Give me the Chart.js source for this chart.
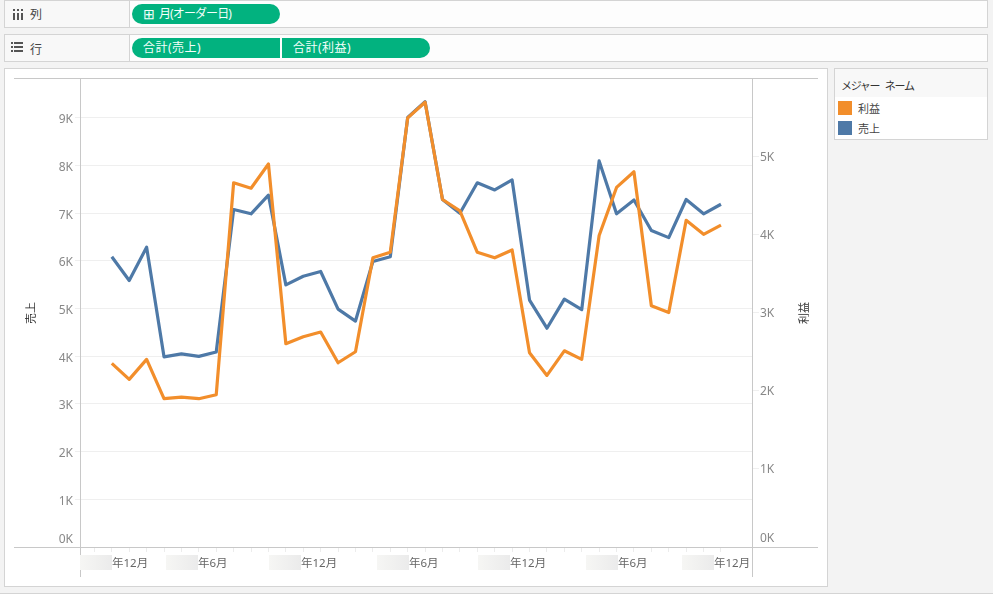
<!DOCTYPE html>
<html>
<head>
<meta charset="utf-8">
<script src="https://cdn.jsdelivr.net/npm/chart.js@4/dist/chart.umd.min.js"></script>
<style>
html, body { margin: 0; padding: 0; width: 993px; height: 594px; overflow: hidden; background: #f3f3f3; }
body, div { font-family: "Noto Sans", "Noto Sans CJK JP", sans-serif; }
.box { position: absolute; box-sizing: border-box; border: 1px solid #d4d4d4; }
.shelf { left: 4px; width: 984px; height: 28px; background: #fdfdfd; }
.shelfhead { position: absolute; left: 0; top: 0; bottom: 0; width: 124px; background: #f8f8f8; border-right: 1px solid #d4d4d4; }
.abs { position: absolute; white-space: nowrap; }
.pill { position: absolute; height: 20px; background: #02b27f; color: #f4fffb; font-size: 12px; line-height: 20px; white-space: nowrap; }
.bar { position: absolute; background: #555; }
.axistitle { position: absolute; font-size: 11px; color: #333; white-space: nowrap; transform: translate(-50%, -50%) rotate(-90deg); }
#plot { position: absolute; left: 4px; top: 68px; width: 824px; height: 519px; background: #fff; }
canvas { position: absolute; left: 0; top: 0; }
</style>
</head>
<body>
<div class="box shelf" style="top:0">
  <div class="shelfhead"></div>
  <div class="bar" style="left:8px;top:8px;width:2px;height:2px"></div>
  <div class="bar" style="left:8px;top:12px;width:2px;height:7px"></div>
  <div class="bar" style="left:12px;top:8px;width:2px;height:2px"></div>
  <div class="bar" style="left:12px;top:12px;width:2px;height:7px"></div>
  <div class="bar" style="left:16px;top:8px;width:2px;height:2px"></div>
  <div class="bar" style="left:16px;top:12px;width:2px;height:7px"></div>
  <div class="abs" style="left:25px;top:4px;font-size:12px;color:#444">列</div>
</div>
<div class="box shelf" style="top:34px">
  <div class="shelfhead"></div>
  <div class="bar" style="left:6px;top:7px;width:2px;height:2px"></div>
  <div class="bar" style="left:9px;top:7px;width:9px;height:2px"></div>
  <div class="bar" style="left:6px;top:11px;width:2px;height:2px"></div>
  <div class="bar" style="left:9px;top:11px;width:9px;height:2px"></div>
  <div class="bar" style="left:6px;top:15px;width:2px;height:2px"></div>
  <div class="bar" style="left:9px;top:15px;width:9px;height:2px"></div>
  <div class="abs" style="left:25px;top:5px;font-size:12px;color:#444">行</div>
</div>
<div class="pill" style="left:132px;top:4px;width:148px;border-radius:10px;">
  <span class="abs" style="left:11px;top:0;font-size:14px">⊞</span>
  <span class="abs" style="left:27px;top:0;letter-spacing:-0.9px">月(オーダー日)</span>
</div>
<div class="pill" style="left:132px;top:38px;width:148px;border-radius:10px 0 0 10px;">
  <span class="abs" style="left:11px;top:0;letter-spacing:0.5px">合計(売上)</span>
</div>
<div class="pill" style="left:282px;top:38px;width:148px;border-radius:0 10px 10px 0;">
  <span class="abs" style="left:11px;top:0;letter-spacing:0.5px">合計(利益)</span>
</div>

<div id="plot" class="box"></div>

<div class="box" style="left:834px;top:68px;width:154px;height:72px;background:#fff">
  <div class="abs" style="left:0;top:0;width:152px;height:28px;background:#f8f8f8"></div>
  <div class="abs" style="left:6px;top:8px;font-size:11px;color:#333;letter-spacing:-1.3px;word-spacing:4px">メジャー ネーム</div>
  <div class="abs" style="left:3px;top:32px;width:14px;height:14px;background:#f28e2b"></div>
  <div class="abs" style="left:23px;top:31px;font-size:11px;color:#444">利益</div>
  <div class="abs" style="left:3px;top:52px;width:14px;height:14px;background:#4e79a7"></div>
  <div class="abs" style="left:23px;top:51px;font-size:11px;color:#444">売上</div>
</div>
<div class="abs" style="left:0;top:593px;width:993px;height:1px;background:#d4d4d4"></div>

<canvas id="MyChart" width="993" height="594" style="width:993px;height:594px"></canvas>
<div class="axistitle" style="left:30px;top:313px">売上</div>
<div class="axistitle" style="left:803px;top:313px">利益</div>

<script>
// values, one per month (three years)
var months = ['1月','2月','3月','4月','5月','6月','7月','8月','9月','10月','11月','12月',
              '1月','2月','3月','4月','5月','6月','7月','8月','9月','10月','11月','12月',
              '1月','2月','3月','4月','5月','6月','7月','8月','9月','10月','11月','12月'];
var sales = [6090,5590,6290,3990,4050,4000,4090,7080,6990,7380,5500,5680,
             5780,4990,4740,5990,6090,9010,9340,7290,7000,7640,7490,7700,
             5180,4590,5200,4980,8100,6990,7280,6640,6490,7290,6990,7190];
var profit = [2349,2144,2400,1897,1918,1897,1948,4660,4590,4900,2600,2690,
              2750,2357,2498,3700,3770,5490,5690,4446,4300,3770,3700,3800,
              2485,2195,2510,2400,3985,4600,4800,3086,3000,4180,4000,4117];
var salesTicks = [0,1000,2000,3000,4000,5000,6000,7000,8000,9000];
var profitTicks = [0,1000,2000,3000,4000,5000];
var xTickValues = [0,6,12,18,24,30,36];
var xTickLabels = ['年12月','年6月','年12月','年6月','年12月','年6月','年12月'];

var FONT = '"Noto Sans", "Noto Sans CJK JP", sans-serif';
var labelShift = [18,-1,-2,1,-2,1,-7];   // Tableau nudges the label off the tick

function toPoints(values) {
    return values.map(function (v, i) { return { x: i + 1, y: v, month: months[i] }; });
}
function kLabel(v) {
    // 0K sits above the axis line, the empty line pushes it up
    return v === 0 ? ['0K', ''] : (v / 1000) + 'K';
}
function fixedTicks(values) {
    return function (s) {
        s.ticks = values.map(function (v) { return { value: v }; });
    };
}

var frame = {
    id: 'frame',
    afterDraw: function (chart) {
        var c = chart.ctx, a = chart.chartArea, xs = chart.scales.x;
        c.save();
        c.strokeStyle = '#c8c8c8';
        c.lineWidth = 1;
        c.beginPath();
        c.moveTo(14, a.top + 0.5); c.lineTo(818, a.top + 0.5);
        c.moveTo(14, a.bottom + 0.5); c.lineTo(818, a.bottom + 0.5);
        c.moveTo(a.left - 0.5, a.top); c.lineTo(a.left - 0.5, 577);
        c.moveTo(a.right - 0.5, a.top); c.lineTo(a.right - 0.5, 577);
        c.stroke();

        c.font = '11.5px ' + FONT;
        c.textAlign = 'left';
        c.textBaseline = 'middle';
        xTickValues.forEach(function (v, i) {
            var start = Math.round(xs.getPixelForValue(v)) + labelShift[i];
            // the blurred out year in front of each label
            var g = c.createLinearGradient(start - 32, 0, start, 0);
            g.addColorStop(0, '#f6f6f4');
            g.addColorStop(1, '#ebebeb');
            c.fillStyle = g;
            c.fillRect(start - 32, 555, 32, 15);
            c.fillStyle = '#666';
            c.fillText(xTickLabels[i], start, 564);
        });
        c.restore();
    }
};

var ctx = document.getElementById('MyChart').getContext('2d');
var config = {
    type: 'line',
    data: {
        datasets: [
            { label: '利益', data: toPoints(profit), yAxisID: 'y2', borderColor: '#f28e2b', order: 0 },
            { label: '売上', data: toPoints(sales), yAxisID: 'y', borderColor: '#4e79a7', order: 1 }
        ]
    },
    options: {
        responsive: false,
        animation: false,
        layout: { padding: { left: 23, right: 183, top: 78, bottom: 0 } },
        elements: {
            line: { borderWidth: 3.2, tension: 0, fill: false, borderJoinStyle: 'round' },
            point: { radius: 0 }
        },
        plugins: { legend: { display: false }, tooltip: { enabled: false } },
        scales: {
            x: {
                type: 'linear',
                min: -0.77,
                max: 37.84,
                border: { display: false },
                grid: { drawOnChartArea: false, tickLength: 5, color: '#ececec' },
                ticks: { stepSize: 1, display: false, includeBounds: false },
                afterBuildTicks: function (s) {
                    s.ticks = s.ticks.filter(function (t) { return t.value >= 0 && t.value <= 36; });
                },
                afterFit: function (s) { s.height = 47; }
            },
            y: {
                position: 'left',
                min: 0,
                max: 9839,
                border: { display: false },
                grid: { color: '#efefef', tickLength: 6 },
                afterBuildTicks: fixedTicks(salesTicks),
                ticks: {
                    callback: kLabel, padding: 2, labelOffset: 2,
                    color: '#888', font: { family: FONT, size: 12, lineHeight: 1.5 }
                },
                afterFit: function (s) { s.width = 58; }
            },
            y2: {
                position: 'right',
                min: 0,
                max: 6000,
                border: { display: false },
                grid: { drawOnChartArea: false, color: '#efefef', tickLength: 6 },
                afterBuildTicks: fixedTicks(profitTicks),
                ticks: {
                    callback: kLabel, padding: 1, labelOffset: 1,
                    color: '#888', font: { family: FONT, size: 12, lineHeight: 1.5 }
                },
                afterFit: function (s) { s.width = 57; }
            }
        }
    },
    plugins: [frame]
};
new Chart(ctx, config);
</script>
</body>
</html>
